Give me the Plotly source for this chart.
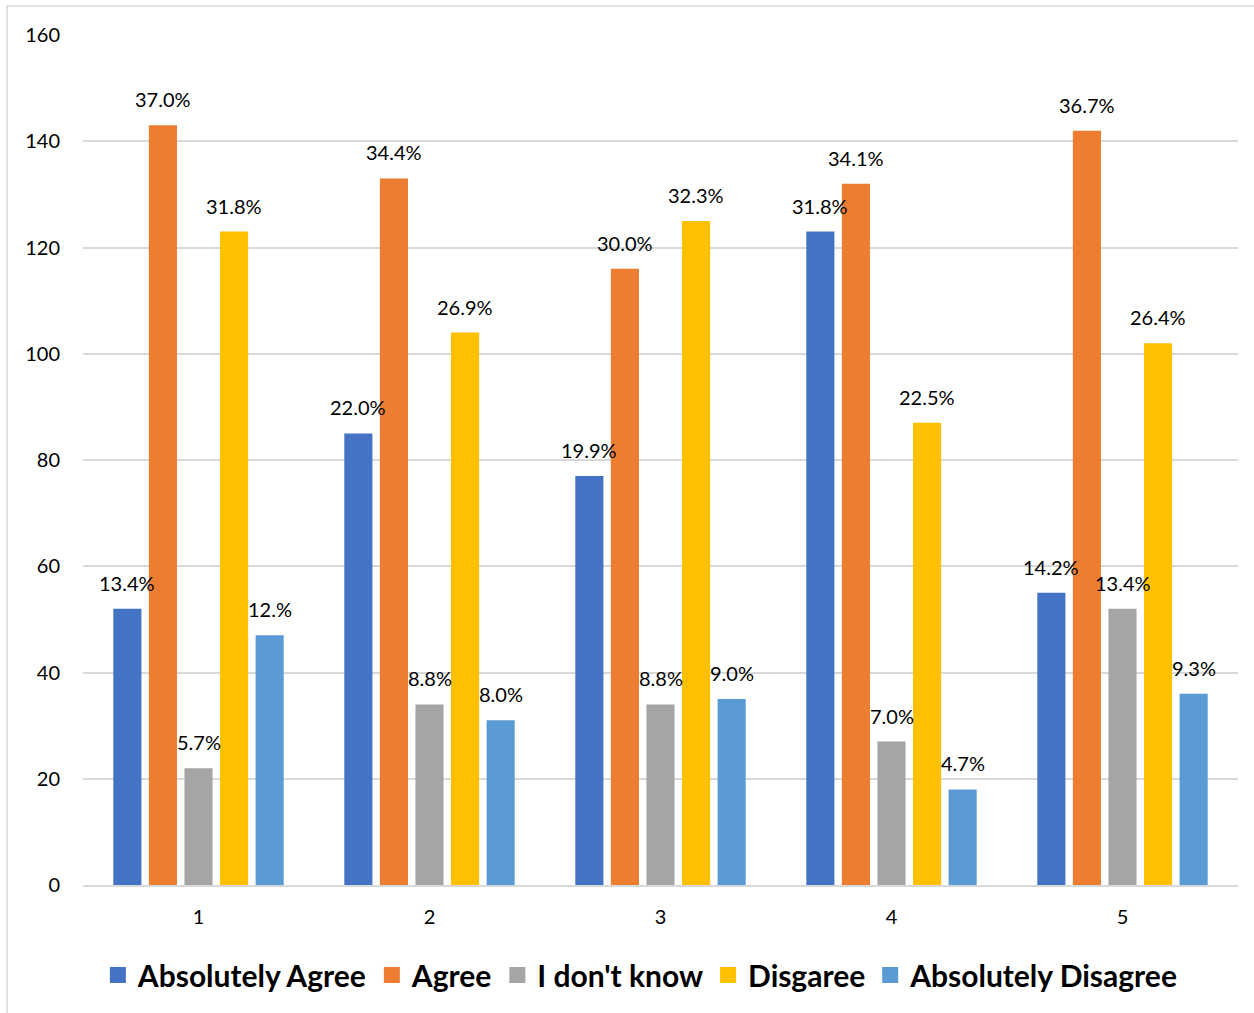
import plotly.graph_objects as go

# Survey responses per statement (counts) and their share labels
statements = [1, 2, 3, 4, 5]
series_names = ["Absolutely Agree", "Agree", "I don't know", "Disgaree", "Absolutely Disagree"]
absolutely_agree = [52, 85, 77, 123, 55]
agree = [143, 133, 116, 132, 142]
dont_know = [22, 34, 34, 27, 52]
disagree = [123, 104, 125, 87, 102]
absolutely_disagree = [47, 31, 35, 18, 36]

absolutely_agree_pct = ["13.4%", "22.0%", "19.9%", "31.8%", "14.2%"]
agree_pct = ["37.0%", "34.4%", "30.0%", "34.1%", "36.7%"]
dont_know_pct = ["5.7%", "8.8%", "8.8%", "7.0%", "13.4%"]
disagree_pct = ["31.8%", "26.9%", "32.3%", "22.5%", "26.4%"]
absolutely_disagree_pct = ["12.%", "8.0%", "9.0%", "4.7%", "9.3%"]

y_ticks = [0, 20, 40, 60, 80, 100, 120, 140, 160]

colors = ["#4472C4", "#ED7D31", "#A5A5A5", "#FFC000", "#5B9BD5"]
values = [absolutely_agree, agree, dont_know, disagree, absolutely_disagree]
labels = [absolutely_agree_pct, agree_pct, dont_know_pct, disagree_pct, absolutely_disagree_pct]

FONT = "Lato"
BARGAP = 0.23
BARGROUPGAP = 0.21

fig = go.Figure()
for name, vals, col in zip(series_names, values, colors):
    fig.add_trace(go.Bar(x=statements, y=vals, name=name, marker_color=col,
                         marker_line_width=0, showlegend=False, legendgroup=name))

# legend entries drawn as larger square swatches
for name, col in zip(series_names, colors):
    fig.add_trace(go.Scatter(x=[None], y=[None], mode="markers", name=name,
                             legendgroup=name,
                             marker=dict(symbol="square", size=18, color=col)))

# percentage labels above each bar
slot = (1 - BARGAP) / len(series_names)
for j, (vals, labs) in enumerate(zip(values, labels)):
    offset = (j - (len(series_names) - 1) / 2) * slot
    for xi, v, t in zip(statements, vals, labs):
        fig.add_annotation(x=xi + offset, y=v, text=t, showarrow=False,
                           xref="x", yref="y", yanchor="middle", yshift=26,
                           font=dict(family=FONT, size=20, color="#000000"))

# outer chart frame
fig.add_shape(type="rect", xref="paper", yref="paper",
              x0=-0.0658, x1=1.02, y0=-0.16, y1=1.034,
              line=dict(color="#D9D9D9", width=1.5), fillcolor="rgba(0,0,0,0)",
              layer="below")

fig.update_layout(
    width=1254, height=1013,
    margin=dict(l=83, r=16, t=35, b=128),
    paper_bgcolor="white", plot_bgcolor="white",
    barmode="group", bargap=BARGAP, bargroupgap=BARGROUPGAP,
    font=dict(family=FONT, size=20, color="#000000"),
    showlegend=True,
    legend=dict(orientation="h", x=0.483, xanchor="center", y=-0.106, yanchor="middle",
                font=dict(family=FONT, size=30, color="#000000", weight="bold"),
                itemsizing="trace", traceorder="grouped", tracegroupgap=18,
                itemwidth=30),
    xaxis=dict(tickmode="array", tickvals=statements, ticktext=[str(s) for s in statements],
               range=[0.5, 5.5], showgrid=False, showline=True, linecolor="#D9D9D9",
               linewidth=1.5, ticks="", ticklabelstandoff=13,
               tickfont=dict(family=FONT, size=20)),
    yaxis=dict(tickmode="array", tickvals=y_ticks, range=[0, 160], showgrid=True,
               gridcolor="#D9D9D9", gridwidth=1.5, zeroline=False, showline=False,
               ticks="", ticklabelstandoff=22, tickfont=dict(family=FONT, size=20)),
)

fig.write_html("out.html")
